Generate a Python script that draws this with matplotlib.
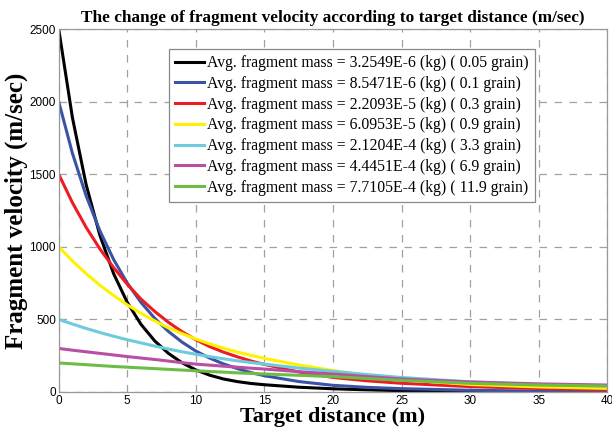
import numpy as np
import matplotlib
matplotlib.use("Agg")
import matplotlib.pyplot as plt  # noqa: E402

x = [0, 1, 2, 3, 4, 5, 6, 7, 8, 9, 10, 11, 12, 13, 14, 15, 17.5, 20, 22.5, 25, 30, 35, 40]

# fragment velocity (m/sec), one list per fragment mass
v_black = [2500, 1890, 1428, 1080, 816, 617, 466, 352, 266, 201, 152, 116, 90, 72, 59, 50,
           33, 22, 15, 9, 4, 2, 1]
v_blue = [2000, 1644, 1351, 1111, 913, 750, 617, 508, 417, 343, 282, 234, 194, 162, 134, 112,
          72, 46, 32, 23, 12, 6, 3]
v_red = [1500, 1304, 1134, 986, 857, 742, 640, 555, 480, 415, 360, 313, 275, 243, 214, 190,
         138, 100, 77, 60, 37, 24, 14]
v_yellow = [1000, 903, 815, 736, 665, 600, 542, 490, 442, 402, 365, 332, 302, 276, 253, 232,
            186, 148, 112, 85, 52, 35, 25]
v_cyan = [500, 468, 438, 410, 384, 360, 338, 316, 296, 277, 260, 244, 229, 215, 203, 192,
          165, 142, 120, 100, 70, 52, 42]
v_magenta = [300, 288, 277, 266, 255, 244, 234, 224, 213, 202, 192, 185, 178, 171, 164, 158,
             140, 124, 106, 90, 69, 56, 48]
v_green = [200, 194, 188, 182, 176, 171, 166, 161, 156, 151, 146, 141, 137, 132, 128, 124,
           115, 106, 93, 80, 60, 48, 41]

labels = [
    "Avg. fragment mass = 3.2549E-6 (kg) ( 0.05 grain)",
    "Avg. fragment mass = 8.5471E-6 (kg) ( 0.1 grain)",
    "Avg. fragment mass = 2.2093E-5 (kg) ( 0.3 grain)",
    "Avg. fragment mass = 6.0953E-5 (kg) ( 0.9 grain)",
    "Avg. fragment mass = 2.1204E-4 (kg) ( 3.3 grain)",
    "Avg. fragment mass = 4.4451E-4 (kg) ( 6.9 grain)",
    "Avg. fragment mass = 7.7105E-4 (kg) ( 11.9 grain)",
]
colors = ["#000000", "#3a53a4", "#ed1c24", "#fff200", "#6dcbdc", "#b94ea5", "#6cbd45"]
series = [v_black, v_blue, v_red, v_yellow, v_cyan, v_magenta, v_green]

SERIF = ["Liberation Serif", "DejaVu Serif"]

fig = plt.figure(figsize=(6.12, 4.34), dpi=100)
ax = fig.add_axes([58.7 / 612, 42 / 434, (607.3 - 58.7) / 612, (392 - 29) / 434])

for vals, c, lab in zip(series, colors, labels):
    ax.plot(x, vals, color=c, lw=2.2, label=lab, solid_joinstyle="round")

ax.set_xlim(0, 40)
ax.set_ylim(0, 2500)
ax.set_xticks(np.arange(0, 41, 5))
ax.set_yticks(np.arange(0, 2501, 500))
ax.grid(True, color="#a0a0a0", ls=(0, (6, 6)), lw=0.9)
ax.tick_params(length=0, labelsize=8.5, pad=2)
for lab in ax.get_xticklabels() + ax.get_yticklabels():
    lab.set_family("Liberation Sans")
for s in ax.spines.values():
    s.set_color("#999999")
    s.set_linewidth(0.9)

ax.set_title("The change of fragment velocity according to target distance (m/sec)",
             family=SERIF, fontweight="bold", fontsize=12.4, pad=5)
ax.set_xlabel("Target distance (m)", family=SERIF, fontweight="bold", fontsize=16, labelpad=0)
ax.set_ylabel("Fragment velocity (m/sec)", family=SERIF, fontweight="bold", fontsize=18, labelpad=1)

leg = ax.legend(loc="upper left", bbox_to_anchor=(169 / 612, 1 - 49 / 434),
                bbox_transform=fig.transFigure, borderaxespad=0,
                prop={"family": SERIF, "size": 11.3}, fancybox=False, framealpha=1,
                edgecolor="#888888", handlelength=1.8, handletextpad=0.25,
                labelspacing=0.3, borderpad=0.4)
leg.get_frame().set_linewidth(0.9)

fig.savefig("out.png", dpi=100)
